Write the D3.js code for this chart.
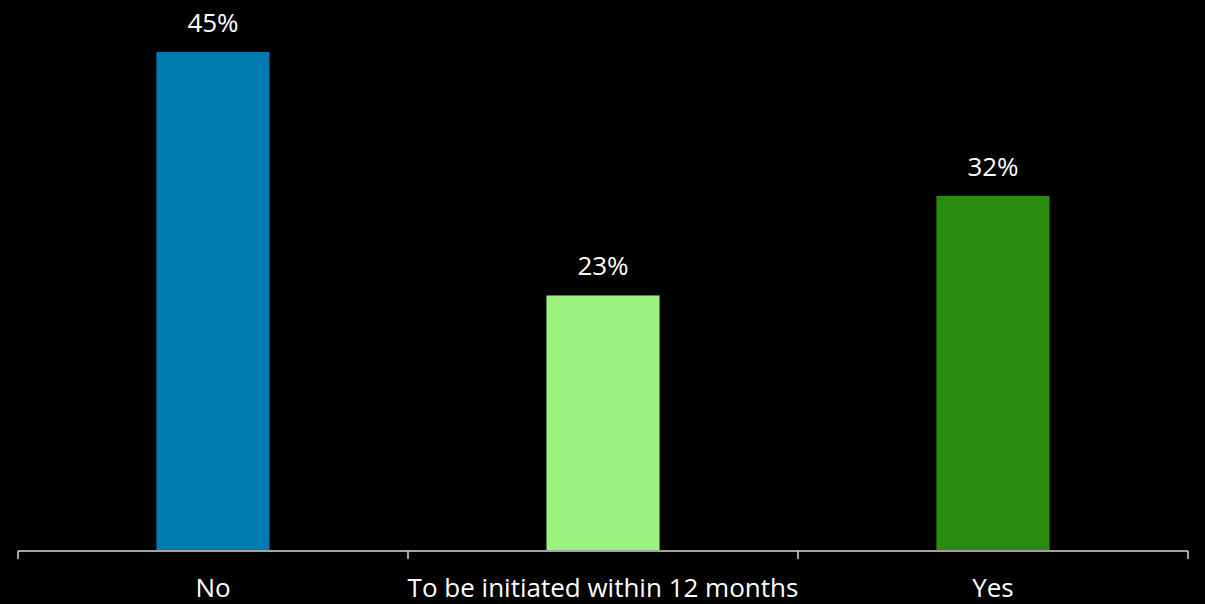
<!DOCTYPE html>
<html><head><meta charset="utf-8">
<script src="https://cdn.jsdelivr.net/npm/d3@7"></script>
<style>html,body{margin:0;padding:0;background:#000;}svg{display:block;}</style>
</head><body>
<svg id="chart" width="1205" height="604"></svg>
<script>
const categories = ["No", "To be initiated within 12 months", "Yes"];
const values = [45, 23, 32];
const colors = ["#007BAF", "#9BF27F", "#288A0F"];
const valueLabels = ["45%", "23%", "32%"];

const svg = d3.select("#chart");
const W = 1205, H = 604;
const mLeft = 18, mRight = 1188, baseline = 550, mTop = 52;
const font = "'Open Sans', sans-serif";

svg.append("rect").attr("width", W).attr("height", H).attr("fill", "#000");

const x = d3.scaleBand().domain(categories).range([mLeft, mRight])
  .paddingInner(0.71).paddingOuter(0.355);
const y = d3.scaleLinear().domain([0, 45]).range([baseline, mTop]);

svg.selectAll("rect.bar").data(categories).join("rect")
  .attr("class", "bar")
  .attr("x", d => x(d))
  .attr("width", x.bandwidth())
  .attr("y", (d, i) => y(values[i]))
  .attr("height", (d, i) => baseline - y(values[i]))
  .attr("fill", (d, i) => colors[i]);

svg.selectAll("text.val").data(categories).join("text")
  .attr("class", "val")
  .attr("x", d => x(d) + x.bandwidth() / 2)
  .attr("y", (d, i) => y(values[i]) - 20)
  .attr("text-anchor", "middle")
  .attr("fill", "#fff")
  .style("font-family", font).style("font-size", "26px")
  .text((d, i) => valueLabels[i]);

const step = x.step();
const tickPos = d3.range(categories.length + 1).map(i => mLeft + i * step);
const g = svg.append("g");
g.append("line").attr("x1", mLeft).attr("x2", mRight).attr("y1", baseline + 1).attr("y2", baseline + 1)
  .attr("stroke", "#d9d9d9").attr("stroke-width", 1.5);
g.selectAll("line.tick").data(tickPos).join("line").attr("class", "tick")
  .attr("x1", d => d).attr("x2", d => d).attr("y1", baseline + 1).attr("y2", baseline + 9)
  .attr("stroke", "#d9d9d9").attr("stroke-width", 1.5);

svg.selectAll("text.cat").data(categories).join("text")
  .attr("class", "cat")
  .attr("x", d => x(d) + x.bandwidth() / 2)
  .attr("y", 597)
  .attr("text-anchor", "middle")
  .attr("fill", "#fff")
  .style("font-family", font).style("font-size", "26px")
  .text(d => d);
</script>
</body></html>
